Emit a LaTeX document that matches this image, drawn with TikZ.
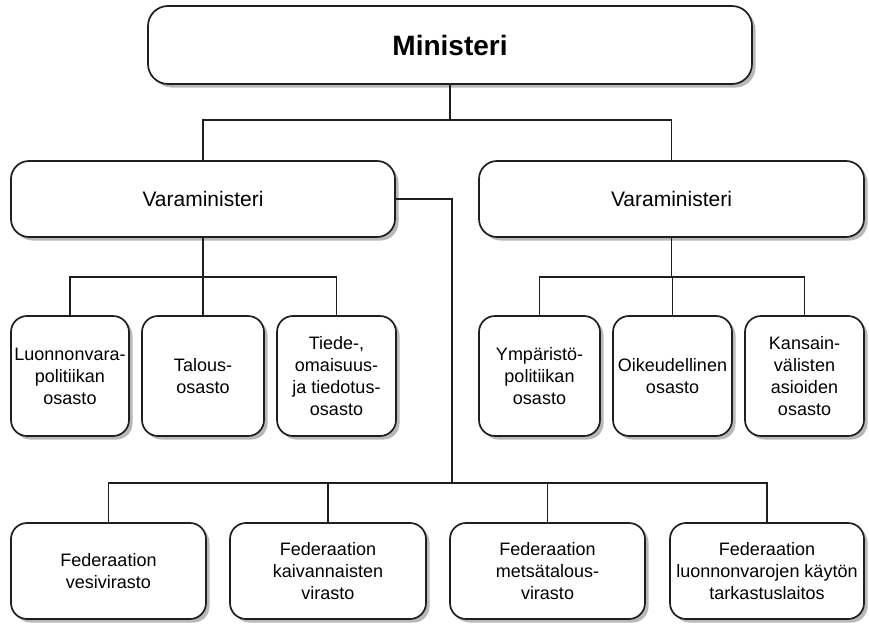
\documentclass[tikz,border=0pt]{standalone}
\usepackage{fontspec}
\setmainfont{Liberation Sans}
\usetikzlibrary{shadows}
\begin{document}
\begin{tikzpicture}[x=1pt,y=-1pt,
  box/.style={draw=black!88, line width=1.7pt, rounded corners=16pt, fill=white,
    align=center, inner sep=0pt, font=\fontsize{18}{22}\selectfont,
    drop shadow={shadow xshift=3.5pt, shadow yshift=-3.5pt, fill=black!28, opacity=1}},
  conn/.style={draw=black!88, line width=1.7pt}]
\fill[white] (0,0) rectangle (869,626);
\useasboundingbox (0,0) rectangle (869,626);
% top
\node[box, rounded corners=20pt, minimum width=604pt, minimum height=78pt,
  font=\bfseries\fontsize{28}{32}\selectfont] (M) at (450,45) {Ministeri};
\node[box, rounded corners=18pt, minimum width=384pt, minimum height=76pt,
  font=\fontsize{21}{25}\selectfont] (VL) at (203,199) {Varaministeri};
\node[box, rounded corners=18pt, minimum width=385pt, minimum height=76pt,
  font=\fontsize{21}{25}\selectfont] (VR) at (671.5,199) {Varaministeri};
% row 2
\node[box, minimum width=118pt, minimum height=120pt] (L1) at (70,376) {Luonnonvara-\\politiikan\\osasto};
\node[box, minimum width=122pt, minimum height=120pt] (L2) at (203,376) {Talous-\\osasto};
\node[box, minimum width=119pt, minimum height=120pt] (L3) at (336.5,376) {Tiede-,\\omaisuus-\\ja tiedotus-\\osasto};
\node[box, minimum width=121pt, minimum height=120pt] (R1) at (539.5,376) {Ympäristö-\\politiikan\\osasto};
\node[box, minimum width=119pt, minimum height=120pt] (R2) at (672.5,376) {Oikeudellinen\\osasto};
\node[box, minimum width=119pt, minimum height=120pt] (R3) at (804.5,376) {Kansain-\\välisten\\asioiden\\osasto};
% row 3
\node[box, minimum width=195pt, minimum height=96pt] (B1) at (108.5,571) {Federaation\\vesivirasto};
\node[box, minimum width=196pt, minimum height=96pt] (B2) at (328,571) {Federaation\\kaivannaisten\\virasto};
\node[box, minimum width=195pt, minimum height=96pt] (B3) at (547.5,571) {Federaation\\metsätalous-\\virasto};
\node[box, minimum width=194pt, minimum height=96pt] (B4) at (767,571) {Federaation\\luonnonvarojen käytön\\tarkastuslaitos};
% junctions
\coordinate (j1) at (452,120);
\coordinate (jl) at (203,277);
\coordinate (jr) at (672,277);
\coordinate (jb) at (452,483);
% connectors
\draw[conn] (M.south) -- (M.south |- j1);
\draw[conn] (VL.north) |- (j1) -| (VR.north);
\draw[conn] (VL.east) -| (jb);
\draw[conn] (VL.south) -- (jl);
\draw[conn] (L1.north) |- (jl) -| (L3.north);
\draw[conn] (L2.north) -- (L2.north |- jl);
\draw[conn] (VR.south) -- (VR.south |- jr);
\draw[conn] (R1.north) |- (jr) -| (R3.north);
\draw[conn] (R2.north) -- (R2.north |- jr);
\draw[conn] (B1.north) |- (jb) -| (B4.north);
\draw[conn] (B2.north) -- (B2.north |- jb);
\draw[conn] (B3.north) -- (B3.north |- jb);
\end{tikzpicture}
\end{document}
